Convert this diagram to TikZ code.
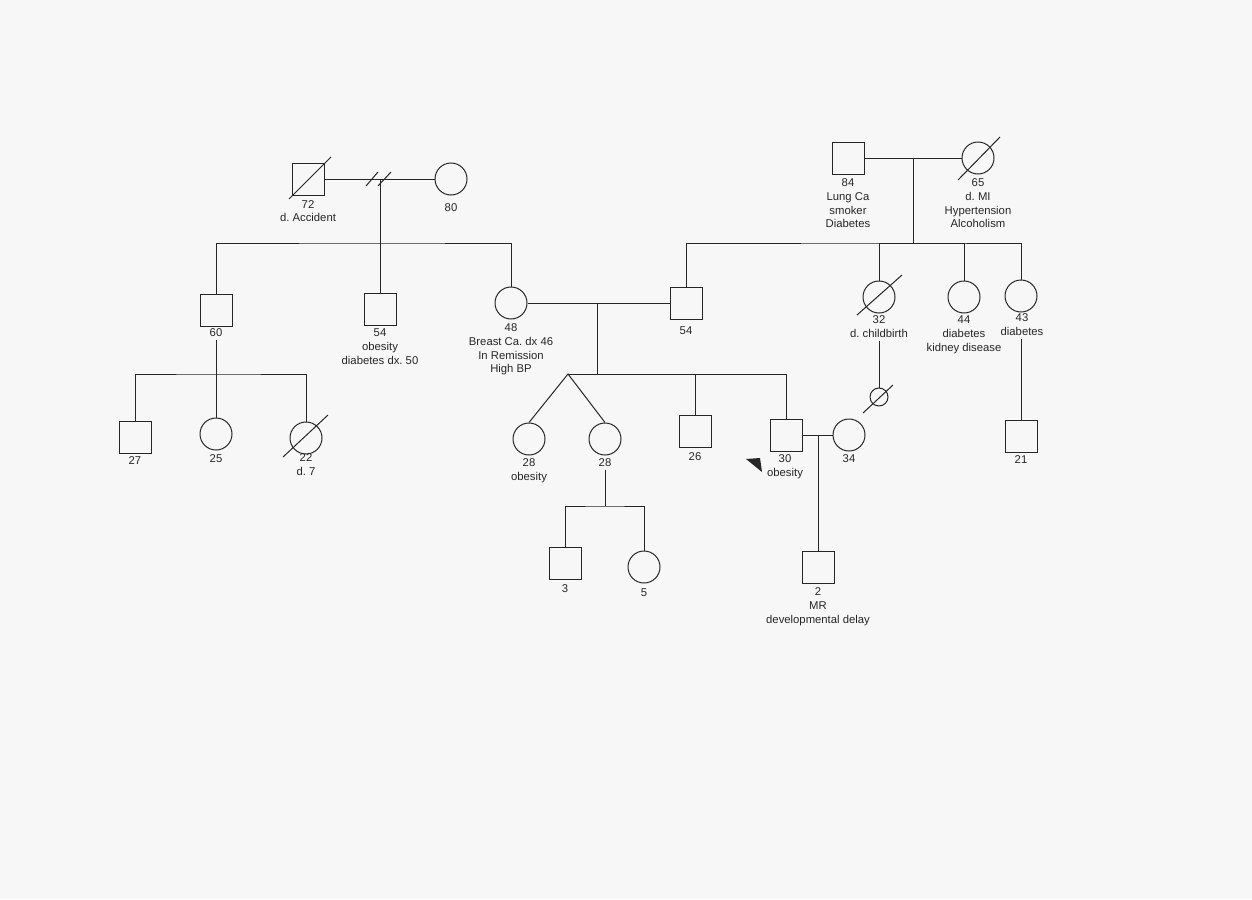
\documentclass[tikz,border=0pt]{standalone}
\usepackage{fontspec}
\setmainfont{Liberation Sans}
\usetikzlibrary{calc}
\begin{document}
\frenchspacing
\begin{tikzpicture}[x=1pt,y=-1pt,
  ln/.style={draw=black!85, line width=1pt},
  male/.style={ln, rectangle, minimum size=32pt, inner sep=0pt},
  female/.style={ln, circle, minimum size=32pt, inner sep=0pt},
  small/.style={ln, circle, minimum size=18pt, inner sep=0pt},
  lbl/.style={font=\fontsize{11.3}{13.8}\selectfont\frenchspacing, align=center, inner sep=0pt, anchor=north, text=black!85},
  slash/.style={ln}]
\fill[black!3] (0,0) rectangle (1252,899);
\useasboundingbox (0,0) rectangle (1252,899);

% generation I
\node[male]   (gf1) at (308,179) {};
\node[female] (gm1) at (451,179) {};
\node[male]   (gf2) at (848,158) {};
\node[female] (gm2) at (978,158) {};
\coordinate (m1) at (380,179);
\coordinate (s1) at (380,243);
\coordinate (m2) at (913,158);
\coordinate (s2) at (913,243);

% generation II
\node[male]   (c60) at (216,310) {};
\node[male]   (c54) at (380,309) {};
\node[female] (c48) at (511,303) {};
\node[male]   (c54b) at (686,303) {};
\node[female] (c32) at (879,297) {};
\node[female] (c44) at (964,297) {};
\node[female] (c43) at (1021,296) {};
\coordinate (m3) at (597,303);
\coordinate (s3) at (597,374);
\coordinate (tw) at (568,374);
\coordinate (s4) at (216,374);

% generation III
\node[male]   (c27) at (135,437) {};
\node[female] (c25) at (216,434) {};
\node[female] (c22) at (306,438) {};
\node[female] (c28a) at (529,439) {};
\node[female] (c28b) at (605,439) {};
\node[male]   (c26) at (695,431) {};
\node[male]   (c30) at (786,435) {};
\node[female] (c34) at (849,435) {};
\node[small]  (sb) at (879,397) {};
\node[male]   (c21) at (1021,436) {};
\coordinate (m4) at (818,435);
\coordinate (s5) at (605,506);

% generation IV
\node[male]   (c3) at (565,563) {};
\node[female] (c5) at (644,567) {};
\node[male]   (c2) at (818,567) {};

% labels
\node[lbl] (l72) at (308,200) {72\\d. Accident};
\node[lbl] (l80) at (451,203.5) {80};
\node[lbl] (l84) at (848,178.5) {84\\Lung Ca\\smoker\\Diabetes};
\node[lbl] (l65) at (978,178.5) {65\\d. MI\\Hypertension\\Alcoholism};
\node[lbl] (l60) at (216,328.5) {60};
\node[lbl] (l54) at (380,328.5) {54\\obesity\\diabetes dx. 50};
\node[lbl] (l48) at (511,323.5) {48\\Breast Ca. dx 46\\In Remission\\High BP};
\node[lbl] (l54b) at (686,326.5) {54};
\node[lbl] (l32) at (879,315.5) {32\\d. childbirth};
\node[lbl] (l44) at (964,315.5) {44\\diabetes\\kidney disease};
\node[lbl] (l43) at (1022,313.5) {43\\diabetes};
\node[lbl] (l27) at (135,456.5) {27};
\node[lbl] (l25) at (216,454.5) {25};
\node[lbl] (l22) at (306,453.5) {22\\d. 7};
\node[lbl] (l28a) at (529,458.5) {28\\obesity};
\node[lbl] (l28b) at (605,458.5) {28};
\node[lbl] (l26) at (695,452.5) {26};
\node[lbl] (l30) at (785,454.5) {30\\obesity};
\node[lbl] (l34) at (849,454.5) {34};
\node[lbl] (l21) at (1021,455.5) {21};
\node[lbl] (l3) at (565,584.5) {3};
\node[lbl] (l5) at (644,588.5) {5};
\node[lbl] (l2) at (818,587.5) {2\\MR\\developmental delay};

% connectors
\draw[ln] (gf1.east) -- (gm1.west);
\draw[ln] (m1) -- (s1);
\draw[ln] (366,186) -- (378,172);
\draw[ln] (378,186) -- (391,172);
\draw[ln] (c60.north) |- (s1) -| (c48.north);
\draw[ln] (s1) -- (c54.north);

\draw[ln] (gf2.east) -- (gm2.west);
\draw[ln] (m2) -- (s2);
\draw[ln] (c54b.north) |- (s2) -| (c43.north);
\draw[ln] (s2) -| (c32.north);
\draw[ln] (s2) -| (c44.north);

\draw[ln] (c48.east) -- (c54b.west);
\draw[ln] (m3) -- (s3);
\draw[ln] (tw) -| (c30.north);
\draw[ln] (c26.north) -- (c26.north |- tw);
\draw[ln] (c28a.north) -- (tw) -- (c28b.north);

\draw[ln] ($(l60.south)+(0,3)$) -- (c25.north);
\draw[ln] (c27.north) |- (s4) -| (c22.north);

\draw[ln] ($(l32.south)+(0,3)$) -- (sb.north);
\draw[ln] ($(l43.south -| c21.north)+(0,3)$) -- (c21.north);

\draw[ln] (c30.east) -- (c34.west);
\draw[ln] (m4) -- (c2.north);

\draw[ln] ($(l28b.south)+(0,3)$) -- (s5);
\draw[ln] (c3.north) |- (s5) -| (c5.north);

% deceased slashes
\draw[slash] ($(gf1)+(-19,20)$) -- ($(gf1)+(23,-22)$);
\draw[slash] ($(gm2)+(-20,22)$) -- ($(gm2)+(22,-21)$);
\draw[slash] ($(c32)+(-22,18)$) -- ($(c32)+(23,-22)$);
\draw[slash] ($(c22)+(-23,19)$) -- ($(c22)+(22,-23)$);
\draw[slash] ($(sb)+(-16,16)$) -- ($(sb)+(14,-12)$);

% proband mark
\fill[black!85] (746,459) -- (760,458) -- (762,472) -- cycle;
\end{tikzpicture}
\end{document}
